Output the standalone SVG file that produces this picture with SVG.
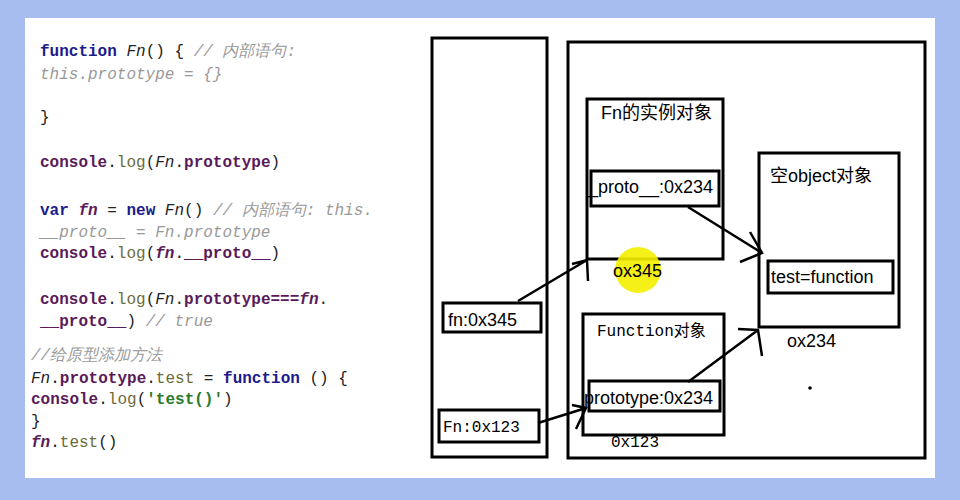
<svg xmlns="http://www.w3.org/2000/svg" width="960" height="500" viewBox="0 0 960 500">
<style>
.code{font-family:"Liberation Mono","DejaVu Sans Mono",monospace;font-size:16px;fill:#222}
.kw{fill:#1b1b8c;font-weight:bold}.pr{fill:#5a1a5a;font-weight:bold}.lg{fill:#6b6b3a}.it{font-style:italic}
.cm{fill:#999;font-style:italic}.st{fill:#2a7a2a;font-weight:bold}
.box{fill:none;stroke:#000;stroke-width:3}
.lbl{font-family:"Liberation Sans","Noto Sans CJK SC",sans-serif;font-size:18px;fill:#000}
.mono{font-family:"Liberation Mono","Noto Sans CJK SC",monospace;font-size:16px;fill:#000}
.conn{stroke:#000;stroke-width:2.5;fill:none}
</style>
<rect width="960" height="500" fill="#a7bdf0"/>
<rect x="25" y="18" width="910" height="460" fill="#fff"/>
<g id="code" class="code">
<text x="40" y="56"><tspan class="kw">function</tspan> <tspan class="it">Fn</tspan>() {   <tspan class="cm">// 内部语句:</tspan></text>
<text x="40" y="79" class="cm">this.prototype = {}</text>
<text x="40" y="122">}</text>
<text x="40" y="167"><tspan class="pr">console</tspan>.<tspan class="lg">log</tspan>(<tspan class="it">Fn</tspan>.<tspan class="pr">prototype</tspan>)</text>
<text x="40" y="215"><tspan class="kw">var</tspan> <tspan class="it pr">fn</tspan> = <tspan class="kw">new</tspan> <tspan class="it">Fn</tspan>()  <tspan class="cm">// 内部语句: this.</tspan></text>
<text x="40" y="237" class="cm">__proto__ = Fn.prototype</text>
<text x="40" y="258"><tspan class="pr">console</tspan>.<tspan class="lg">log</tspan>(<tspan class="it pr">fn</tspan>.<tspan class="pr">__proto__</tspan>)</text>
<text x="40" y="304"><tspan class="pr">console</tspan>.<tspan class="lg">log</tspan>(<tspan class="it">Fn</tspan>.<tspan class="pr">prototype===</tspan><tspan class="it pr">fn</tspan>.</text>
<text x="40" y="326"><tspan class="pr">__proto__</tspan>) <tspan class="cm">// true</tspan></text>
<text x="31" y="360" class="cm">//给原型添加方法</text>
<text x="31" y="383"><tspan class="it">Fn</tspan>.<tspan class="pr">prototype</tspan>.<tspan class="lg">test</tspan> = <tspan class="kw">function</tspan> () {</text>
<text x="31" y="404">  <tspan class="pr">console</tspan>.<tspan class="lg">log</tspan>(<tspan class="st">'test()'</tspan>)</text>
<text x="31" y="426">}</text>
<text x="31" y="447"><tspan class="it pr">fn</tspan>.<tspan class="lg">test</tspan>()</text>
</g>
<g id="stack"><rect class="box" x="432" y="38" width="115" height="419"/></g>
<g id="heap"><rect class="box" x="568" y="42" width="357" height="416"/></g>
<g id="fnvar"><rect class="box" x="443" y="303" width="98" height="29"/><text class="lbl" x="448" y="326">fn:0x345</text></g>
<g id="Fnvar"><rect class="box" x="439" y="410" width="100" height="32"/><text class="mono" x="443" y="432">Fn:0x123</text></g>
<g id="instance"><rect class="box" x="587" y="99" width="136" height="160"/><text class="lbl" x="601" y="119">Fn的实例对象</text>
<rect class="box" x="591" y="171" width="128" height="35"/><text class="lbl" x="588" y="193">_proto__:0x234</text>
<circle cx="638" cy="270" r="23" fill="#f5ee00" opacity="0.9"/><text class="lbl" x="613" y="277">ox345</text></g>
<g id="emptyobj"><rect class="box" x="759" y="153" width="140" height="174"/><text class="lbl" x="770" y="182">空object对象</text>
<rect class="box" x="768" y="261" width="125" height="32"/><text class="lbl" x="771" y="283">test=function</text>
<text class="lbl" x="787" y="347">ox234</text></g>
<g id="funcobj"><rect class="box" x="583" y="314" width="141" height="121"/><text class="mono" x="597" y="336">Function对象</text>
<rect class="box" x="589" y="381" width="131" height="30"/><text class="lbl" x="584" y="404">prototype:0x234</text>
<text class="mono" x="611" y="447">0x123</text></g>
<circle cx="810" cy="388" r="1.8" fill="#000"/>
<g id="connectors" class="conn">
<path d="M518 301 L587 260 M572 264 L587 260 L588 281"/>
<path d="M688 207 L762 253 M750 232 L762 253 L740 262"/>
<path d="M688 382 L758 330 M738 329 L758 330 L762 356"/>
<path d="M538 423 L586 408 M572 405 L586 408 L576 429"/>
</g>
</svg>
